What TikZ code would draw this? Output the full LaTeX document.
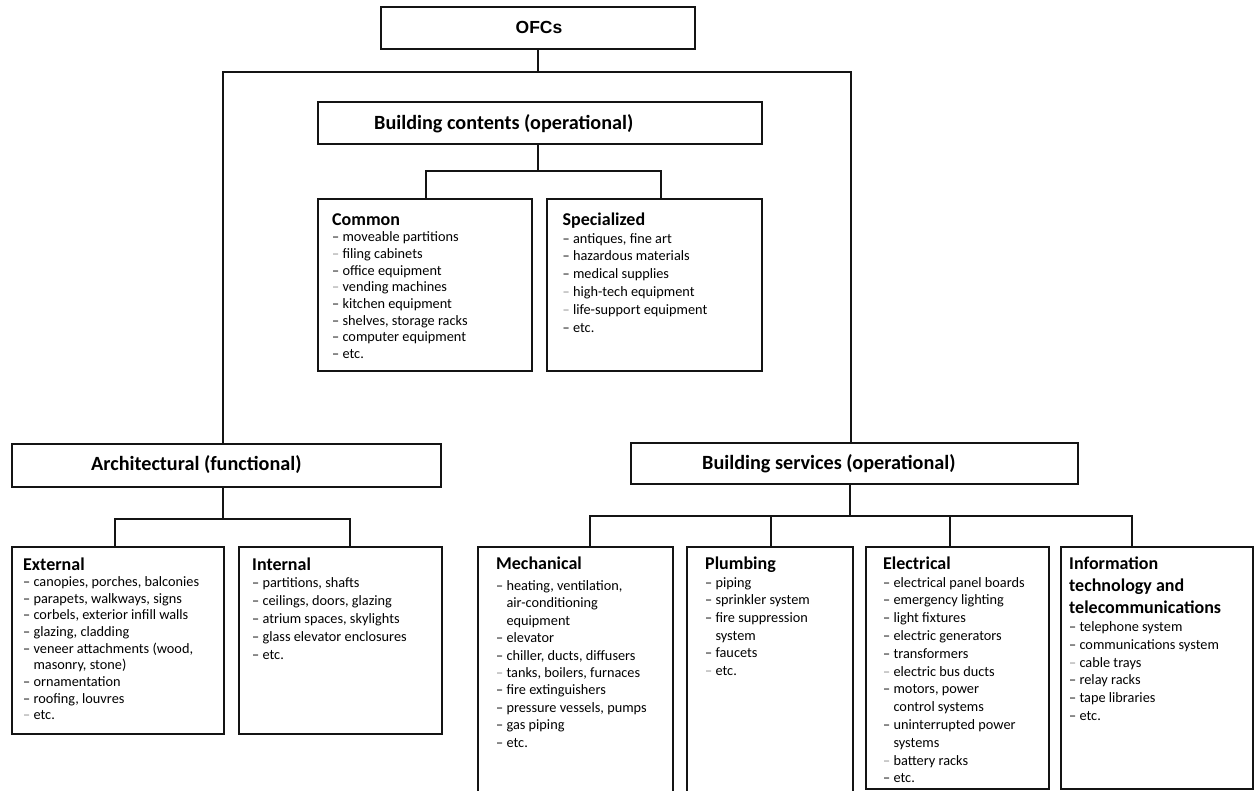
\documentclass[tikz,border=0pt]{standalone}
\usepackage{fontspec}
\setmainfont{Carlito}
\newfontfamily\ofcfont{Liberation Sans}
\usetikzlibrary{calc}

% light dash used for some list entries, and hanging indent for wrapped entries
\newcommand\gd{\textcolor{black!45}{–}\ }
\newcommand\ind{\hphantom{–\ }}

\tikzset{
  boxst/.style={draw=black!92, line width=1.8pt, rectangle, inner sep=0pt, outer sep=0pt},
  conn/.style={draw=black!92, line width=1.3pt},
  titletxt/.style={font=\fontsize{20.2}{24}\selectfont\bfseries, anchor=base west, inner sep=0pt},
  headtxt/.style={font=\fontsize{18}{22}\selectfont\bfseries, anchor=base west, inner sep=0pt},
  itemtxt/.style={font=\fontsize{14.3}{17}\selectfont, anchor=base west, inner sep=0pt},
}

% \mkbox{name}{x1}{y1}{x2}{y2}: empty framed box between two corners
\newcommand\mkbox[5]{%
  \node[boxst, minimum width={#4pt-#2pt}, minimum height={#5pt-#3pt}] (#1) at ({(#2+#4)/2},{(#3+#5)/2}) {};}

% \itemlist{prefix}{x}{first baseline}{line step}{entries}
\newcommand\itemlist[5]{%
  \foreach \t [count=\k] in {#5} {
    \node[itemtxt] (#1-\k) at ({#2},{#3+(\k-1)*#4}) {\t};
  }}

\begin{document}
\begin{tikzpicture}[x=1pt, y=-1pt]
\useasboundingbox (0,0) rectangle (1254,791);

% ---- boxes ----
\mkbox{ofc}{381}{7}{695}{49}
\mkbox{bc}{318}{102}{762}{144}
\mkbox{common}{318}{199}{532}{371}
\mkbox{spec}{547}{199}{762}{371}
\mkbox{arch}{12}{444}{441}{487}
\mkbox{serv}{631}{443}{1078}{484}
\mkbox{ext}{12}{547}{224}{734}
\mkbox{int}{239}{547}{442}{734}
\mkbox{mech}{478}{547}{673}{805}
\mkbox{plumb}{687}{547}{853}{805}
\mkbox{elec}{866}{547}{1049}{789}
\mkbox{it}{1061}{547}{1253}{789}

% ---- titles ----
\node[inner sep=0pt, anchor=base, font=\ofcfont\fontsize{17.5}{20}\selectfont\bfseries] (ofc-t) at (539,33.5) {OFCs};
\node[titletxt] (bc-t) at (374,130) {Building contents (operational)};
\node[titletxt] (arch-t) at (91,471) {Architectural (functional)};
\node[titletxt] (serv-t) at (702,470) {Building services (operational)};

% ---- headings ----
\node[headtxt] (common-h) at (332,225.7) {Common};
\node[headtxt] (spec-h) at (562.5,225.7) {Specialized};
\node[headtxt] (ext-h) at (23,570) {External};
\node[headtxt] (int-h) at (252,570) {Internal};
\node[headtxt] (mech-h) at (496,569.3) {Mechanical};
\node[headtxt] (plumb-h) at (705,569.3) {Plumbing};
\node[headtxt] (elec-h) at (883,569.3) {Electrical};
\node[headtxt] (it-h1) at (1069,569.3) {Information};
\node[headtxt] (it-h2) at (1069,591.6) {technology and};
\node[headtxt] (it-h3) at (1069,613.9) {telecommunications};

% ---- lists ----
\itemlist{common}{332}{241.7}{16.67}{%
  {– moveable partitions},{\gd filing cabinets},{– office equipment},{\gd vending machines},
  {– kitchen equipment},{– shelves, storage racks},{– computer equipment},{– etc.}}
\itemlist{spec}{562.5}{243.1}{17.9}{%
  {– antiques, fine art},{– hazardous materials},{– medical supplies},
  {\gd high-tech equipment},{\gd life-support equipment},{– etc.}}
\itemlist{ext}{23}{586.5}{16.67}{%
  {– canopies, porches, balconies},{– parapets, walkways, signs},{– corbels, exterior infill walls},
  {– glazing, cladding},{– veneer attachments (wood,},{\ind masonry, stone)},
  {– ornamentation},{– roofing, louvres},{\gd etc.}}
\itemlist{int}{252}{587}{18.2}{%
  {– partitions, shafts},{– ceilings, doors, glazing},{– atrium spaces, skylights},
  {– glass elevator enclosures},{– etc.}}
\itemlist{mech}{496}{590.5}{17.4}{%
  {– heating, ventilation,},{\ind air-conditioning},{\ind equipment},{– elevator},
  {– chiller, ducts, diffusers},{\gd tanks, boilers, furnaces},{– fire extinguishers},
  {– pressure vessels, pumps},{– gas piping},{– etc.}}
\itemlist{plumb}{705}{587}{17.7}{%
  {– piping},{– sprinkler system},{– fire suppression},{\ind system},{– faucets},{\gd etc.}}
\itemlist{elec}{883}{587.1}{17.8}{%
  {– electrical panel boards},{– emergency lighting},{– light fixtures},{– electric generators},
  {– transformers},{\gd electric bus ducts},{– motors, power},{\ind control systems},
  {– uninterrupted power},{\ind systems},{\gd battery racks},{– etc.}}
\itemlist{it}{1069}{631.5}{17.8}{%
  {– telephone system},{– communications system},{\gd cable trays},{– relay racks},
  {– tape libraries},{– etc.}}

% ---- connectors ----
\coordinate (busL) at (223,72);
\coordinate (busR) at (851,72);
\draw[conn] (ofc.south) -- (ofc.south |- busL);
\draw[conn] (arch.north -| busL) -- (busL) -- (busR) -- (serv.north -| busR);

\coordinate (bcd) at (538,171);
\coordinate (bcl) at (426,171);
\coordinate (bcr) at (661,171);
\draw[conn] (bc.south -| bcd) -- (bcd);
\draw[conn] (common.north -| bcl) -- (bcl) -- (bcr) -- (spec.north -| bcr);

\coordinate (ad) at (223,519);
\coordinate (al) at (115,519);
\coordinate (ar) at (350,519);
\draw[conn] (arch.south -| ad) -- (ad);
\draw[conn] (ext.north -| al) -- (al) -- (ar) -- (int.north -| ar);

\coordinate (sd) at (850,516);
\coordinate (s1) at (590,516);
\coordinate (s2) at (771,516);
\coordinate (s3) at (950,516);
\coordinate (s4) at (1132,516);
\draw[conn] (serv.south -| sd) -- (sd);
\draw[conn] (mech.north -| s1) -- (s1) -- (s4) -- (it.north -| s4);
\draw[conn] (plumb.north -| s2) -- (s2);
\draw[conn] (elec.north -| s3) -- (s3);
\end{tikzpicture}
\end{document}
